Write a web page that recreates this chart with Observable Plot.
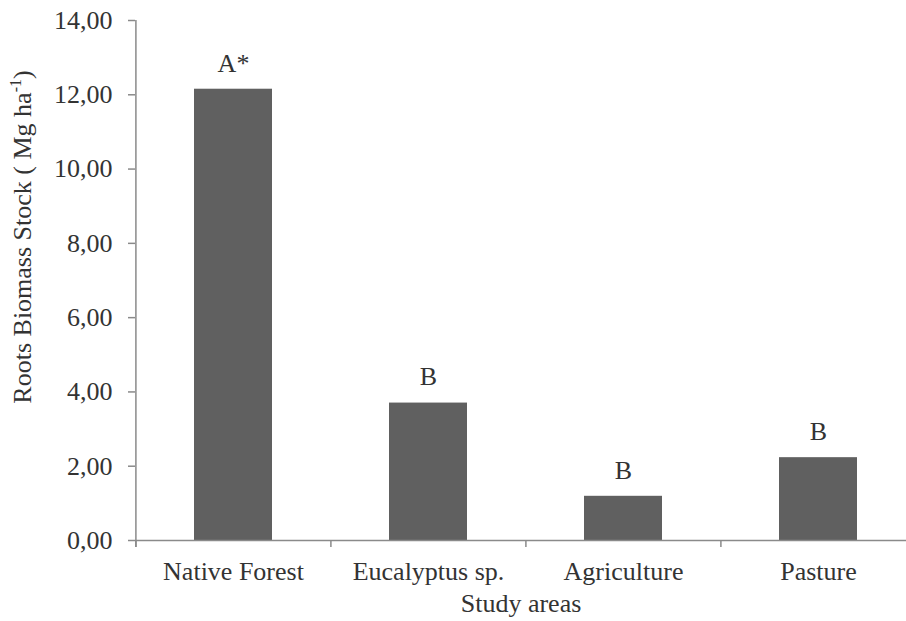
<!DOCTYPE html>
<html><head><meta charset="utf-8">
<script src="https://cdn.jsdelivr.net/npm/d3@7"></script>
<script src="https://cdn.jsdelivr.net/npm/@observablehq/plot@0.6"></script>
<style>
body{margin:0;background:#fff;overflow:hidden;}
svg, svg text { font-family: "Liberation Serif", "DejaVu Serif", serif !important; }
</style>
</head><body><div id="chart"></div>
<script>
const categories = ["Native Forest", "Eucalyptus sp.", "Agriculture", "Pasture"];
const values = [12.15, 3.70, 1.19, 2.23];
const letters = ["A*", "B", "B", "B"];
const yTicks = [0, 2, 4, 6, 8, 10, 12, 14];
const yLabelMain = "Roots Biomass Stock ( Mg ha";
const yLabelSup = "-1";
const yLabelEnd = ")";
const xLabel = "Study areas";

const data = categories.map((c, i) => ({area: c, value: values[i], letter: letters[i]}));
const font = "Liberation Serif, DejaVu Serif, serif";
const axisColor = "#8a8a8a";
const textColor = "#333";
const half = -97.6;

const plot = Plot.plot({
  width: 906, height: 621,
  marginLeft: 135, marginTop: 20, marginBottom: 81, marginRight: 0,
  style: {fontFamily: font, fontSize: "26px", color: textColor, background: "#fff"},
  x: {domain: categories, range: [135, 916], paddingInner: 0.6, paddingOuter: 0.3, align: 0.5},
  y: {domain: [0, 14]},
  marks: [
    Plot.barY(data, {x: "area", y: "value", fill: "#606060"}),
    Plot.ruleY([0], {stroke: axisColor, strokeWidth: 1.5}),
    Plot.ruleX(categories, {x: d => d, y1: 0, y2: 0, dx: half, insetBottom: -7, stroke: axisColor, strokeWidth: 1.5}),
    Plot.ruleX([categories[0]], {x: d => d, y1: 14, y2: 0, dx: half, insetBottom: -7, stroke: axisColor, strokeWidth: 1.5}),
    Plot.axisY({ticks: yTicks, tickSize: 7, tickPadding: 16, tickFormat: d => d.toFixed(2).replace(".", ","), label: null, stroke: axisColor, fill: textColor, strokeWidth: 1.5}),
    Plot.axisX({tickSize: 0, tickPadding: 21.5, label: null, fill: textColor}),
    Plot.text(data, {x: "area", y: "value", text: "letter", dy: -26, fill: textColor})
  ]
});

const svg = d3.select(plot);
const yl = svg.append("text")
  .attr("transform", "translate(31,237) rotate(-90)")
  .attr("text-anchor", "middle")
  .attr("fill", textColor)
  .style("font-size", "26px");
yl.append("tspan").text(yLabelMain);
yl.append("tspan").attr("dy", -10).style("font-size", "16px").text(yLabelSup);
yl.append("tspan").attr("dy", 10).text(yLabelEnd);

svg.append("text")
  .attr("x", 521).attr("y", 612)
  .attr("text-anchor", "middle")
  .attr("fill", textColor)
  .style("font-size", "26px")
  .text(xLabel);

document.getElementById("chart").appendChild(plot);
</script>
</body></html>
